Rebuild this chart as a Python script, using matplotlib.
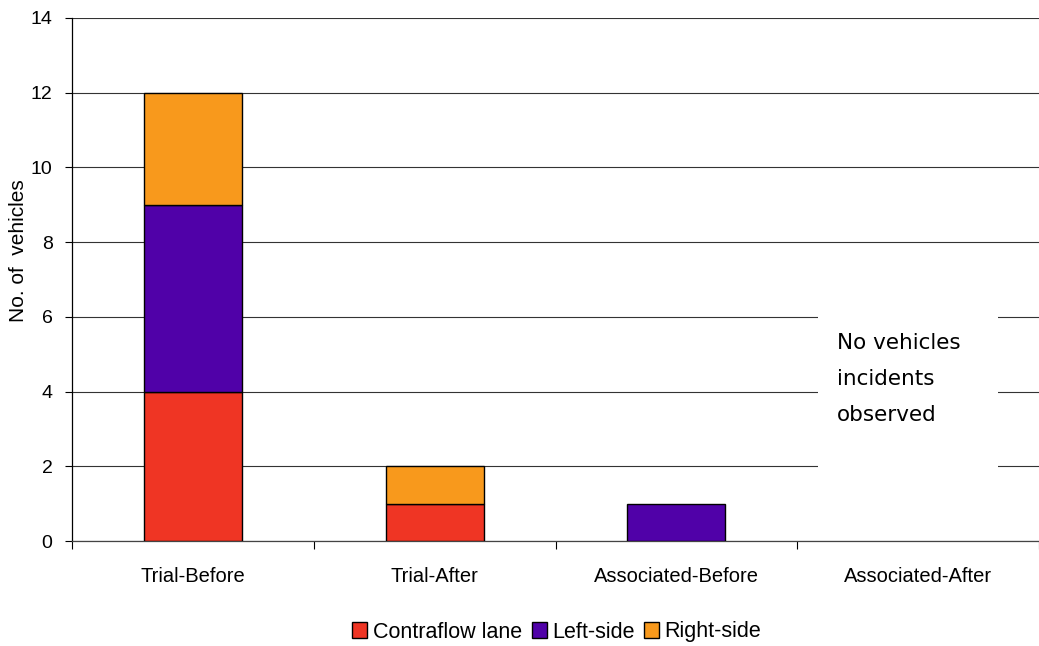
import matplotlib
matplotlib.use("Agg")
import matplotlib.pyplot as plt
import numpy as np
from matplotlib.patches import Rectangle

plt.rcParams['font.family'] = ['Liberation Sans', 'DejaVu Sans']

categories = ["Trial-Before", "Trial-After", "Associated-Before", "Associated-After"]
series_names = ["Contraflow lane", "Left-side", "Right-side"]
contraflow = [4, 1, 0, 0]
left_side = [5, 0, 1, 0]
right_side = [3, 1, 0, 0]
colors = ["#EF3524", "#5001A8", "#F8991C"]
y_ticks = [0, 2, 4, 6, 8, 10, 12, 14]
note_text = "No vehicles\nincidents\nobserved"

FS = 14.5

fig = plt.figure(figsize=(10.39, 6.46), dpi=100)
ax = fig.add_axes([72 / 1039, (646 - 541) / 646, (1039 - 72) / 1039, (541 - 18) / 646])

x = np.arange(len(categories))
bottom = np.zeros(len(categories))
for vals, name, col in zip([contraflow, left_side, right_side], series_names, colors):
    v = np.array(vals, dtype=float)
    # zero-height segments get no outline
    lw = np.where(v > 0, 1.0, 0.0)
    ax.bar(x, v, width=0.405, bottom=bottom, color=col, edgecolor="black",
           linewidth=lw, label=name, zorder=3)
    bottom += v

ax.set_xlim(-0.5, len(categories) - 0.5)
ax.set_ylim(0, 14)
ax.set_yticks(y_ticks)
ax.yaxis.grid(True, color="#333333", linewidth=0.8, zorder=0)
ax.set_axisbelow(True)

# category labels centered, tick marks at category boundaries
ax.set_xticks(x)
ax.set_xticklabels(categories, fontsize=FS)
ax.tick_params(axis="x", length=0, pad=19)
ax.set_xticks(np.arange(-0.5, len(categories) + 0.5, 1.0), minor=True)
ax.tick_params(axis="x", which="minor", length=6, width=0.8, color="black")
ax.tick_params(axis="y", length=5, width=0.8, labelsize=14, pad=9)

for s in ["top", "right"]:
    ax.spines[s].set_visible(False)
ax.spines["left"].set_color("black")
ax.spines["bottom"].set_color("#444444")
ax.spines["left"].set_linewidth(0.9)
ax.spines["bottom"].set_linewidth(0.9)

ax.set_ylabel("No. of  vehicles", fontsize=15)
ax.yaxis.set_label_coords(-0.0455, 0.556)

# white note box covering the gridlines
ax.add_patch(Rectangle((2.586, 1.8), 0.744, 4.4, facecolor="white", edgecolor="none", zorder=2))
ax.text(2.664, 4.34, note_text, fontsize=15.5, va="center", ha="left",
        family="DejaVu Sans", linespacing=1.98, zorder=4)

handles, labels = ax.get_legend_handles_labels()
fig.legend(handles, labels, loc="center", bbox_to_anchor=(0.536, 1 - 632 / 646), ncol=3,
           frameon=False, fontsize=15.5, handlelength=0.7, handleheight=0.7,
           handletextpad=0.25, columnspacing=0.45)

fig.savefig("out.png", dpi=100)
